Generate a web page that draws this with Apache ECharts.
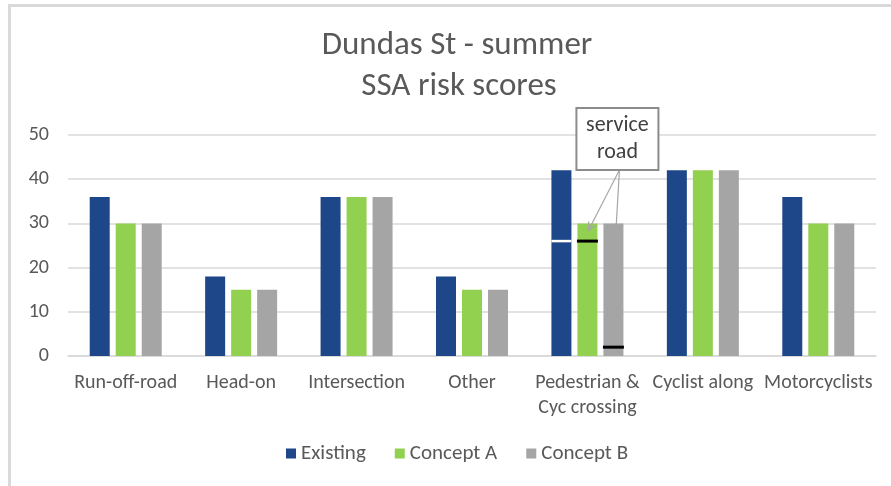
<!DOCTYPE html>
<html>
<head>
<meta charset="utf-8">
<script src="https://cdn.jsdelivr.net/npm/echarts@6/dist/echarts.min.js"></script>
<style>
  html, body { margin: 0; padding: 0; background: #fff; }
  #chart { width: 891px; height: 486px; }
</style>
</head>
<body>
<div id="chart"></div>
<script>
// Risk scores by crash type for each design option
const categories = ['Run-off-road', 'Head-on', 'Intersection', 'Other', 'Pedestrian &\nCyc crossing', 'Cyclist along', 'Motorcyclists'];
const existing = [36, 18, 36, 18, 42, 42, 36];
const conceptA = [30, 15, 36, 15, 30, 42, 30];
const conceptB = [30, 15, 36, 15, 30, 42, 30];
const seriesNames = ['Existing', 'Concept A', 'Concept B'];
const yTicks = [0, 10, 20, 30, 40, 50];

// Service road scores shown as markers on the pedestrian crossing bars
const serviceRoadCategory = 4;
const serviceRoad = [26, 26, 2];
const serviceRoadLabel = 'service\nroad';

const FONT = 'Carlito, Calibri, Lato, "Open Sans", sans-serif';
const TEXT = '#595959';
const COLORS = ['#1D4788', '#92D050', '#A5A5A5'];
const BAR_W = 20;
const BAR_GAP = 0.3;

const chart = echarts.init(document.getElementById('chart'), null, { renderer: 'canvas' });

const option = {
  animation: false,
  color: COLORS,
  grid: { left: 68, right: 15, top: 135, bottom: 130, containLabel: false },
  legend: {
    data: seriesNames,
    bottom: 17,
    left: 281,
    itemWidth: 10,
    itemHeight: 10,
    itemGap: 29,
    icon: 'rect',
    textStyle: { color: TEXT, fontFamily: FONT, fontSize: 21 }
  },
  xAxis: {
    type: 'category',
    data: categories,
    axisLine: { lineStyle: { color: '#D9D9D9', width: 1.5 } },
    axisTick: { show: false },
    axisLabel: { color: TEXT, fontFamily: FONT, fontSize: 20, margin: 14, lineHeight: 25, interval: 0 }
  },
  yAxis: {
    type: 'value',
    min: yTicks[0],
    max: yTicks[yTicks.length - 1],
    interval: 10,
    axisLine: { show: false },
    axisTick: { show: false },
    splitLine: { lineStyle: { color: '#D9D9D9', width: 1.5 } },
    axisLabel: { color: TEXT, fontFamily: FONT, fontSize: 20, margin: 19 }
  },
  series: [existing, conceptA, conceptB].map((vals, i) => ({
    name: seriesNames[i],
    type: 'bar',
    data: vals,
    barWidth: BAR_W,
    barGap: (BAR_GAP * 100) + '%',
    itemStyle: { color: COLORS[i] }
  }))
};
chart.setOption(option);

// Left edge of bar `s` within the category at the given index
function barLeft(catIdx, s) {
  const cx = chart.convertToPixel({ xAxisIndex: 0 }, catIdx);
  const total = 3 * BAR_W + 2 * BAR_GAP * BAR_W;
  return cx - total / 2 + s * (BAR_W + BAR_GAP * BAR_W);
}
function yPix(v) { return chart.convertToPixel({ yAxisIndex: 0 }, v); }

function drawAnnotations() {
  const c = serviceRoadCategory;
  const els = [];

  // Chart area frame
  els.push({ type: 'rect', shape: { x: 9.5, y: 5.5, width: 1000, height: 1000 },
    style: { fill: null, stroke: '#D9D9D9', lineWidth: 3 }, silent: true, z: 0 });

  // Titles
  els.push({ type: 'text', x: 457, y: 46, style: { text: 'Dundas St - summer', fill: TEXT, font: '33px ' + FONT, textAlign: 'center', textVerticalAlign: 'middle' } });
  els.push({ type: 'text', x: 459, y: 87, style: { text: 'SSA risk scores', fill: TEXT, font: '33px ' + FONT, textAlign: 'center', textVerticalAlign: 'middle' } });

  // Service road markers: a white gap across the existing bar, black ticks on the concepts
  const bx0 = barLeft(c, 0);
  els.push({ type: 'line', shape: { x1: bx0, y1: yPix(serviceRoad[0]), x2: bx0 + BAR_W, y2: yPix(serviceRoad[0]) },
    style: { stroke: '#FFFFFF', lineWidth: 2.5 }, z: 10 });
  for (let s = 1; s < 3; s++) {
    const bx = barLeft(c, s);
    els.push({ type: 'line', shape: { x1: bx - 0.5, y1: yPix(serviceRoad[s]), x2: bx + BAR_W + 0.5, y2: yPix(serviceRoad[s]) },
      style: { stroke: '#000000', lineWidth: 3 }, z: 10 });
  }

  // Callout box above the concept bars
  const boxCx = barLeft(c, 2) + BAR_W / 2 + 4;
  const boxW = 82, boxH = 62;
  const boxTop = yPix(50) - 27;
  const ox = boxCx + 2, oy = boxTop + boxH;

  // Arrows from the callout to the concept markers
  const targets = [
    [barLeft(c, 1) + BAR_W / 2 + 1, yPix(conceptA[c]) + 7],
    [barLeft(c, 2) + BAR_W / 2 - 4, yPix(serviceRoad[2]) - 5]
  ];
  targets.forEach(([tx, ty]) => {
    const ang = Math.atan2(ty - oy, tx - ox);
    const L = 9, A = 0.45;
    els.push({ type: 'line', shape: { x1: ox, y1: oy, x2: tx, y2: ty }, style: { stroke: '#A6A6A6', lineWidth: 1.2 }, z: 20 });
    els.push({ type: 'polyline', shape: { points: [
      [tx - L * Math.cos(ang - A), ty - L * Math.sin(ang - A)], [tx, ty],
      [tx - L * Math.cos(ang + A), ty - L * Math.sin(ang + A)]] },
      style: { stroke: '#A6A6A6', lineWidth: 1.2, fill: null }, z: 20 });
  });

  els.push({ type: 'rect', shape: { x: boxCx - boxW / 2, y: boxTop, width: boxW, height: boxH },
    style: { fill: '#FFFFFF', stroke: '#8C8C8C', lineWidth: 2 }, z: 30 });
  els.push({ type: 'text', x: boxCx, y: boxTop + boxH / 2, z: 31,
    style: { text: serviceRoadLabel, fill: '#404040', font: '22px ' + FONT, textAlign: 'center', textVerticalAlign: 'middle', lineHeight: 27 } });

  chart.setOption({ graphic: { elements: els } });
}
drawAnnotations();
</script>
</body>
</html>
